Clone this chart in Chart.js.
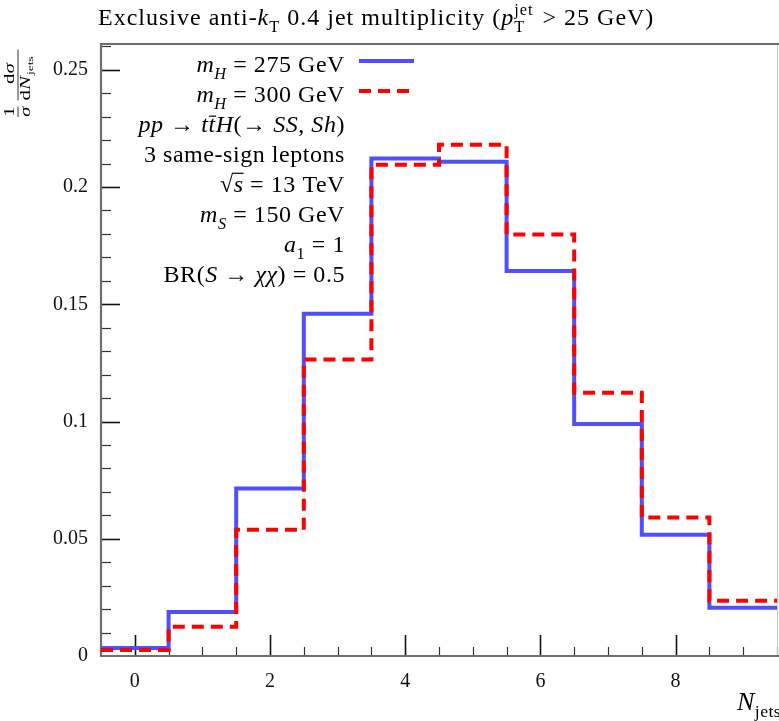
<!DOCTYPE html>
<html>
<head>
<meta charset="utf-8">
<script src="https://cdn.jsdelivr.net/npm/chart.js@4.4.1/dist/chart.umd.min.js"></script>
<style>
  html, body { margin: 0; padding: 0; background: #fff; }
  canvas { display: block; }
</style>
</head>
<body>
<canvas id="c" width="779" height="721"></canvas>
<script>
// Exclusive jet multiplicity, normalised distributions
const nJets = [0, 1, 2, 3, 4, 5, 6, 7, 8, 9];
const fracMH275 = [0.0034, 0.0188, 0.0714, 0.1460, 0.2122, 0.2108, 0.1642, 0.0989, 0.0517, 0.0206];
const fracMH300 = [0.0026, 0.0125, 0.0538, 0.1265, 0.2095, 0.2180, 0.1798, 0.1123, 0.0591, 0.0236];
const xTickValues = [0, 2, 4, 6, 8];
const yTickValues = [0, 0.05, 0.1, 0.15, 0.2, 0.25];

const SERIF = "'Liberation Serif', 'DejaVu Serif', serif";

// histogram edges: one point per bin low edge plus the last upper edge
function histPoints(values) {
  const pts = nJets.map((n, i) => ({ x: n - 0.5, y: values[i] }));
  pts.push({ x: nJets[nJets.length - 1] + 0.5, y: values[values.length - 1] });
  return pts;
}

// ---- small rich-text helper (italic, sub/superscripts, overbars) ----
function segFont(italic, size) {
  return (italic ? 'italic ' : '') + size + 'px ' + SERIF;
}
function layoutRich(ctx, segs, size, spacing) {
  ctx.letterSpacing = (spacing || 0) + 'px';
  let w = 0;
  const items = [];
  for (const s of segs) {
    if (typeof s === 'string') {
      ctx.font = segFont(false, size);
      const mw = ctx.measureText(s).width;
      items.push({ s: { t: s }, x: w, size, w: mw });
      w += mw;
    } else if (s.stack) {
      const ss = size * 0.68;
      ctx.font = segFont(false, ss);
      const w1 = ctx.measureText(s.stack[0]).width;
      const w2 = ctx.measureText(s.stack[1]).width;
      items.push({ s, x: w, size: ss, w: Math.max(w1, w2) });
      w += Math.max(w1, w2) + 2;
    } else {
      const ss = (s.sub || s.sup) ? size * 0.68 : size;
      ctx.font = segFont(s.i, ss);
      const mw = ctx.measureText(s.t).width;
      items.push({ s, x: w, size: ss, w: mw });
      w += mw + (s.gap || 0);
    }
  }
  return { items, w };
}
function drawRich(ctx, segs, x, y, align, size, spacing) {
  ctx.save();
  const { items, w } = layoutRich(ctx, segs, size, spacing);
  const x0 = align === 'right' ? x - w : (align === 'center' ? x - w / 2 : x);
  ctx.fillStyle = '#000';
  ctx.strokeStyle = '#000';
  ctx.textAlign = 'left';
  ctx.textBaseline = 'alphabetic';
  for (const it of items) {
    const s = it.s;
    if (s.stack) {
      ctx.font = segFont(false, it.size);
      ctx.fillText(s.stack[0], x0 + it.x, y + size * 0.28);
      ctx.fillText(s.stack[1], x0 + it.x, y - size * 0.42);
      continue;
    }
    ctx.font = segFont(s.i, it.size);
    let yy = y;
    if (s.sub) yy = y + size * 0.28;
    if (s.sup) yy = y - size * 0.42;
    ctx.fillText(s.t, x0 + it.x, yy);
    if (s.over) {
      ctx.lineWidth = 1.2;
      ctx.beginPath();
      ctx.moveTo(x0 + it.x + (s.overFrom || 0), y - size * s.over);
      ctx.lineTo(x0 + it.x + it.w + (s.overTo || 0), y - size * s.over);
      ctx.stroke();
    }
  }
  ctx.restore();
  return w;
}

const titleSegs = [
  'Exclusive anti-', { t: 'k', i: true }, { t: 'T', sub: true }, ' 0.4 jet multiplicity (',
  { t: 'p', i: true }, { stack: ['T', 'jet'] }, ' > 25 GeV)'
];
const legendSeries = [
  { segs: [{ t: 'm', i: true }, { t: 'H', i: true, sub: true }, ' = 275 GeV'], dataset: 1 },
  { segs: [{ t: 'm', i: true }, { t: 'H', i: true, sub: true }, ' = 300 GeV'], dataset: 0 }
];
const legendNotes = [
  [{ t: 'pp', i: true }, ' → ', { t: 't', i: true }, { t: 't', i: true, over: 0.66, overFrom: 0.5, overTo: 0.5 }, { t: 'H', i: true },
   '(→ ', { t: 'SS', i: true }, ', ', { t: 'Sh', i: true }, ')'],
  ['3 same-sign leptons'],
  ['√', { t: 's', i: true, over: 0.78, overFrom: -1 }, ' = 13 TeV'],
  [{ t: 'm', i: true }, { t: 'S', i: true, sub: true }, ' = 150 GeV'],
  [{ t: 'a', i: true }, { t: '1', sub: true }, ' = 1'],
  ['BR(', { t: 'S', i: true }, ' → ', { t: 'χχ', i: true }, ') = 0.5']
];

// frame and inward tick marks, drawn beneath the histograms
const framePlugin = {
  id: 'frameTicks',
  beforeDatasetsDraw(chart) {
    const ctx = chart.ctx;
    const a = chart.chartArea;
    const xs = chart.scales.x, ys = chart.scales.y;
    ctx.save();
    // minor y ticks every 0.01
    for (let k = 1; k <= 26; k++) {
      const v = k / 100;
      const major = yTickValues.some(t => Math.abs(t - v) < 1e-9);
      const py = Math.round(ys.getPixelForValue(v)) + 0.5;
      ctx.strokeStyle = major ? '#111' : '#333';
      ctx.lineWidth = major ? 1.6 : 1.2;
      ctx.beginPath();
      ctx.moveTo(a.left, py);
      ctx.lineTo(a.left + (major ? 19 : 10), py);
      ctx.stroke();
    }
    // x ticks every 0.5, major on labelled values
    for (let k = 0; k <= 19; k++) {
      const v = k * 0.5;
      const major = xTickValues.includes(v);
      const px = Math.round(xs.getPixelForValue(v)) + 0.5;
      ctx.strokeStyle = major ? '#111' : '#333';
      ctx.lineWidth = major ? 1.6 : 1.2;
      ctx.beginPath();
      ctx.moveTo(px, a.bottom);
      ctx.lineTo(px, a.bottom - (major ? 21 : 9));
      ctx.stroke();
    }
    // frame
    ctx.strokeStyle = '#c8c8c8';
    ctx.lineWidth = 1;
    ctx.beginPath();
    ctx.moveTo(a.right + 0.5, a.top);
    ctx.lineTo(a.right + 0.5, a.bottom);
    ctx.stroke();
    ctx.strokeStyle = '#6e6e6e';
    ctx.lineWidth = 2.2;
    ctx.beginPath();
    ctx.moveTo(a.right + 2, a.top);
    ctx.lineTo(a.left, a.top);
    ctx.lineTo(a.left, a.bottom);
    ctx.lineTo(a.right + 2, a.bottom);
    ctx.stroke();

    // x tick labels, placed from the scale's own ticks
    ctx.fillStyle = '#111';
    ctx.font = '20px ' + SERIF;
    ctx.textAlign = 'center';
    ctx.textBaseline = 'alphabetic';
    xs.ticks.forEach(t => {
      ctx.fillText(String(t.value), xs.getPixelForValue(t.value), a.bottom + 31);
    });
    ctx.restore();
  },
  afterDraw(chart) {
    const ctx = chart.ctx;
    // title
    drawRich(ctx, titleSegs, 98, 25, 'left', 24, 1.0);

    // legend with line samples
    const rightX = 345, base0 = 72, step = 30;
    legendSeries.forEach((row, i) => {
      const y = base0 + i * step;
      drawRich(ctx, row.segs, rightX, y, 'right', 24, 0.55);
      const ds = chart.data.datasets[row.dataset];
      ctx.save();
      ctx.strokeStyle = ds.borderColor;
      ctx.lineWidth = ds.borderWidth;
      ctx.setLineDash(ds.borderDash || []);
      ctx.beginPath();
      ctx.moveTo(359, y - 11);
      ctx.lineTo(414, y - 11);
      ctx.stroke();
      ctx.restore();
    });
    legendNotes.forEach((segs, i) => {
      drawRich(ctx, segs, rightX, base0 + (i + 2) * step, 'right', 24, 0.55);
    });

    // x-axis title
    drawRich(ctx, [{ t: 'N', i: true }, { t: 'jets', sub: true }], 781, 710, 'right', 26, 0.4);

    // y-axis title: (1/σ) dσ/dN_jets, rotated
    ctx.save();
    ctx.translate(18, 117);
    ctx.rotate(-Math.PI / 2);
    ctx.scale(1.5, 1);
    ctx.fillStyle = '#000';
    ctx.strokeStyle = '#000';
    ctx.textAlign = 'center';
    ctx.textBaseline = 'alphabetic';
    ctx.font = segFont(false, 14);
    ctx.fillText('1', 3.5, -4);
    ctx.font = segFont(true, 14);
    ctx.fillText('σ', 3.5, 12);
    ctx.lineWidth = 0.8;
    ctx.beginPath(); ctx.moveTo(0, 0); ctx.lineTo(7, 0); ctx.stroke();
    ctx.font = segFont(false, 14);
    ctx.textAlign = 'left';
    ctx.fillText('d', 22, -4);
    ctx.font = segFont(true, 14);
    ctx.fillText('σ', 29, -4);
    ctx.font = segFont(false, 14);
    ctx.fillText('d', 11, 12);
    ctx.font = segFont(true, 14);
    ctx.fillText('N', 18, 12);
    ctx.font = segFont(false, 9);
    ctx.fillText('jets', 28, 15);
    ctx.beginPath(); ctx.moveTo(11, 0); ctx.lineTo(45, 0); ctx.stroke();
    ctx.restore();
  }
};

new Chart(document.getElementById('c'), {
  type: 'line',
  data: {
    datasets: [
      {
        label: 'mH = 300 GeV',
        data: histPoints(fracMH300),
        borderColor: '#ff0000',
        borderWidth: 4,
        borderDash: [12, 7],
        stepped: 'before',
        pointRadius: 0,
        fill: false,
        borderCapStyle: 'butt',
        borderJoinStyle: 'miter',
        order: 0
      },
      {
        label: 'mH = 275 GeV',
        data: histPoints(fracMH275),
        borderColor: '#4f4fff',
        borderWidth: 4,
        stepped: 'before',
        pointRadius: 0,
        fill: false,
        borderCapStyle: 'butt',
        borderJoinStyle: 'miter',
        order: 1
      }
    ]
  },
  options: {
    responsive: false,
    animation: false,
    devicePixelRatio: 1,
    layout: { padding: { top: 44, right: 2, left: 0, bottom: 0 } },
    plugins: { legend: { display: false }, tooltip: { enabled: false }, title: { display: false } },
    scales: {
      x: {
        type: 'linear',
        min: -0.5,
        max: 9.5,
        afterBuildTicks: s => { s.ticks = xTickValues.map(v => ({ value: v })); },
        afterFit: s => { s.height = 65; },
        grid: { display: false },
        border: { display: false },
        ticks: { display: false, autoSkip: false, maxRotation: 0 }
      },
      y: {
        type: 'linear',
        min: 0,
        max: 0.261,
        afterBuildTicks: s => { s.ticks = yTickValues.map(v => ({ value: v })); },
        afterFit: s => { s.width = 101; },
        grid: { display: false },
        border: { display: false },
        ticks: {
          autoSkip: false, padding: 5, color: '#111',
          font: { family: SERIF, size: 20 },
          callback: v => String(v)
        }
      }
    }
  },
  plugins: [framePlugin]
});
</script>
</body>
</html>
